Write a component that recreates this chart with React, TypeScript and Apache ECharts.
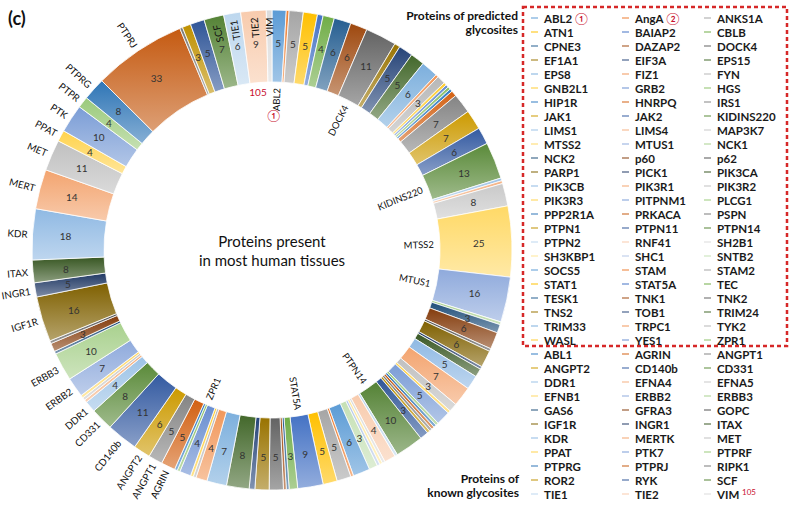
import React, { useEffect, useRef } from 'react';
import * as echarts from 'echarts';

// ---------- data ----------
const predictedNames = ['ABL2','AngA','ANKS1A','ATN1','BAIAP2','CBLB','CPNE3','DAZAP2','DOCK4','EF1A1','EIF3A','EPS15','EPS8','FIZ1','FYN','GNB2L1','GRB2','HGS','HIP1R','HNRPQ','IRS1','JAK1','JAK2','KIDINS220','LIMS1','LIMS4','MAP3K7','MTSS2','MTUS1','NCK1','NCK2','p60','p62','PARP1','PICK1','PIK3CA','PIK3CB','PIK3R1','PIK3R2','PIK3R3','PITPNM1','PLCG1','PPP2R1A','PRKACA','PSPN','PTPN1','PTPN11','PTPN14','PTPN2','RNF41','SH2B1','SH3KBP1','SHC1','SNTB2','SOCS5','STAM','STAM2','STAT1','STAT5A','TEC','TESK1','TNK1','TNK2','TNS2','TOB1','TRIM24','TRIM33','TRPC1','TYK2','WASL','YES1','ZPR1'];
const predictedCounts = [5,1,5,5,2,4,6,6,11,2, 5,5,6,1,3,1,1,1,1,2, 7,7,6,13,1,1,8,25,16,1, 3,6,1,6,1,3,5,7,3,1, 5,1,1,1,1,1,3,10,1,4, 1,1,1,3,6,1,5,5,9,3, 1,1,5,5,2,8,7,4,1,1, 4,1];

const knownNames = ['ABL1','AGRIN','ANGPT1','ANGPT2','CD140b','CD331','DDR1','EFNA4','EFNA5','EFNB1','ERBB2','ERBB3','GAS6','GFRA3','GOPC','IGF1R','INGR1','ITAX','KDR','MERTK','MET','PPAT','PTK7','PTPRF','PTPRG','PTPRJ','RIPK1','ROR2','RYK','SCF','TIE1','TIE2','VIM'];
const knownCounts = [1,5,5,6,11,8,4,1,1,1, 7,10,1,3,1,16,5,8,18,14, 11,4,10,4,8,33,1,3,5,7, 6,9,2];

// names written inside the hole of the ring
const innerLabels = ['ABL2','DOCK4','KIDINS220','MTSS2','MTUS1','PTPN14','STAT5A','ZPR1'];
// names written outside the ring (name -> shown text)
const outerLabels: Record<string, string> = {
  AGRIN: 'AGRIN', ANGPT1: 'ANGPT1', ANGPT2: 'ANGPT2', CD140b: 'CD140b', CD331: 'CD331', DDR1: 'DDR1',
  ERBB2: 'ERBB2', ERBB3: 'ERBB3', IGF1R: 'IGF1R', INGR1: 'INGR1', ITAX: 'ITAX', KDR: 'KDR',
  MERTK: 'MERT', MET: 'MET', PPAT: 'PPAT', PTK7: 'PTK', PTPRF: 'PTPR', PTPRG: 'PTPRG', PTPRJ: 'PTPRJ',
};
// names written inside their own slice, near the outer edge
const sliceLabels = ['SCF','TIE1','TIE2','VIM'];

const centerTitle = 'Proteins present\nin most human tissues';

// ---------- colours ----------
const paletteGroups = [
  ['#5B9BD5','#ED7D31','#A5A5A5','#FFC000','#4472C4','#70AD47'],
  ['#255E91','#9E480E','#636363','#997300','#264478','#43682B'],
  ['#7CAFDD','#F1975A','#B7B7B7','#FFCD33','#698ED0','#8CC168'],
  ['#327DC2','#D26012','#848484','#CC9A00','#335AA1','#5A8A39'],
  ['#9DC3E6','#F4B183','#C9C9C9','#FFD966','#8FAADC','#A9D18E'],
  ['#1F4E79','#843C0C','#525252','#7F6000','#203864','#385723'],
  ['#8FB9E3','#F3A46F','#C0C0C0','#FFD34D','#7B9DD6','#9BCA7B'],
  ['#2E75B6','#C55A11','#7B7B7B','#BF9000','#2F5597','#548235'],
  ['#BDD7EE','#F8CBAD','#DBDBDB','#FFE699','#B4C7E7','#C5E0B4'],
];
const colorOf = (i: number) => paletteGroups[Math.floor(i / 6) % 9][i % 6];
const mix = (hex: string, t: number) => {
  const n = parseInt(hex.slice(1), 16);
  const f = (c: number) => Math.round(c + (255 - c) * t);
  return `rgb(${f((n >> 16) & 255)},${f((n >> 8) & 255)},${f(n & 255)})`;
};

const FONT = 'Lato, "Open Sans", sans-serif';
const NAME_SIZE = 9.5;
const INNER_BOX = 70;

function measure(text: string, font: string) {
  const ctx = document.createElement('canvas').getContext('2d');
  if (!ctx) return text.length * 6;
  ctx.font = font;
  return ctx.measureText(text).width;
}

function buildOption() {
  const names = [...predictedNames, ...knownNames];
  const counts = [...predictedCounts, ...knownCounts];
  const total = counts.reduce((a, b) => a + b, 0);
  let acc = 0;
  const midDeg = counts.map((v) => {
    const m = ((acc + v / 2) / total) * 360;
    acc += v;
    return m;
  });

  const mainData = names.map((n, i) => ({
    name: n,
    value: counts[i],
    itemStyle: {
      color: new echarts.graphic.LinearGradient(0, 0, 0, 1, [
        { offset: 0, color: colorOf(i) },
        { offset: 1, color: mix(colorOf(i), 0.42) },
      ]),
    },
  }));

  const innerData = names.map((n, i) => {
    const d: any = { name: n, value: counts[i] };
    if (innerLabels.includes(n)) {
      const w = measure(n, `${NAME_SIZE}px Lato`);
      const pad = Math.max(0, INNER_BOX - w);
      d.label = {
        show: true,
        formatter: n,
        padding: midDeg[i] < 180 ? [0, 0, 0, pad] : [0, pad, 0, 0],
      };
    }
    return d;
  });

  const nameData = names.map((n, i) => {
    const d: any = { name: n, value: counts[i] };
    if (outerLabels[n]) {
      d.label = { show: true, position: 'outside', rotate: 'radial', formatter: outerLabels[n] };
    } else if (sliceLabels.includes(n)) {
      d.label = { show: true, position: 'inside', rotate: 90 - midDeg[i], formatter: n, fontSize: 10 };
    }
    return d;
  });

  const legendLeft = [529, 620, 702];
  const legends = [0, 1, 2].map((c) => ({
    orient: 'vertical',
    left: legendLeft[c],
    top: 11,
    padding: 0,
    itemGap: 0,
    itemWidth: 9,
    itemHeight: 3,
    icon: 'rect',
    selectedMode: false,
    data: names
      .map((n, i) => ({ n, i }))
      .filter((o) => o.i % 3 === c)
      .map((o) => ({ name: o.n, itemStyle: { color: colorOf(o.i) } })),
    formatter: (n: string) => {
      if (n === 'ABL2') return 'ABL2 {r|①}';
      if (n === 'AngA') return 'AngA {r|②}';
      if (n === 'VIM') return 'VIM {s|105}';
      return n;
    },
    textStyle: {
      fontFamily: FONT,
      fontSize: 11.5,
      fontWeight: 'bold',
      color: '#1a1a1a',
      lineHeight: 14,
      rich: {
        r: { color: '#C8102E', fontSize: 12, fontWeight: 'normal', lineHeight: 14 },
        s: { color: '#C8102E', fontSize: 8, fontWeight: 'normal', lineHeight: 14, padding: [0, 0, 5, 0] },
      },
    },
  }));

  const cx = 272;
  const cy = 250;

  return {
    animation: false,
    backgroundColor: '#ffffff',
    legend: legends,
    graphic: [
      {
        type: 'rect',
        shape: { x: 523, y: 7, width: 264, height: 339 },
        style: { fill: 'none', stroke: '#D62828', lineWidth: 2.5, lineDash: [4, 3] },
        silent: true,
      },
      {
        type: 'text', x: 8, y: 9,
        style: { text: '(c)', font: `bold 18px ${FONT}`, fill: '#111' },
      },
      {
        type: 'text', x: 518, y: 8,
        style: { text: 'Proteins of predicted\nglycosites', font: `bold 12px ${FONT}`, fill: '#111', align: 'right', textAlign: 'right', lineHeight: 14 },
      },
      {
        type: 'text', x: 519, y: 471,
        style: { text: 'Proteins of\nknown glycosites', font: `bold 12px ${FONT}`, fill: '#111', align: 'right', textAlign: 'right', lineHeight: 14 },
      },
      {
        type: 'text', x: cx, y: cy,
        style: { text: centerTitle, font: `15px ${FONT}`, fill: '#111', align: 'center', textAlign: 'center', verticalAlign: 'middle', textVerticalAlign: 'middle', lineHeight: 19 },
      },
      {
        type: 'text', x: 258, y: 92,
        style: { text: '105', font: `10px ${FONT}`, fill: '#C8102E', align: 'center', textAlign: 'center', verticalAlign: 'middle', textVerticalAlign: 'middle' },
      },
      {
        type: 'text', x: 274, y: 115,
        style: { text: '①', font: `12px ${FONT}`, fill: '#C8102E', align: 'center', textAlign: 'center', verticalAlign: 'middle', textVerticalAlign: 'middle' },
      },
    ],
    series: [
      {
        type: 'pie',
        center: [cx, cy],
        radius: [168, 240],
        startAngle: 90,
        clockwise: true,
        avoidLabelOverlap: false,
        emphasis: { disabled: true },
        itemStyle: { borderColor: '#ffffff', borderWidth: 0.8 },
        label: {
          show: true,
          position: 'inside',
          fontFamily: FONT,
          fontSize: 10,
          color: '#333333',
          formatter: (p: any) => (p.value >= 3 ? String(p.value) : ''),
        },
        labelLine: { show: false },
        data: mainData,
      },
      {
        type: 'pie',
        center: [cx, cy],
        radius: [114, 134],
        startAngle: 90,
        silent: true,
        avoidLabelOverlap: false,
        emphasis: { disabled: true },
        itemStyle: { color: 'rgba(0,0,0,0)', borderWidth: 0 },
        label: {
          show: false,
          position: 'inside',
          rotate: 'radial',
          fontFamily: FONT,
          fontSize: NAME_SIZE,
          color: '#111',
        },
        labelLine: { show: false },
        data: innerData,
      },
      {
        type: 'pie',
        center: [cx, cy],
        radius: [200, 240],
        startAngle: 90,
        silent: true,
        avoidLabelOverlap: false,
        emphasis: { disabled: true },
        itemStyle: { color: 'rgba(0,0,0,0)', borderWidth: 0 },
        label: {
          show: false,
          fontFamily: FONT,
          fontSize: 9.8,
          color: '#111',
          distanceToLabelLine: 0,
        },
        labelLine: { show: false, length: 5, length2: 0 },
        data: nameData,
      },
    ],
  };
}

export default function App() {
  const ref = useRef<HTMLDivElement>(null);
  useEffect(() => {
    const chart = echarts.init(ref.current as HTMLDivElement, null, { renderer: 'svg' });
    chart.setOption(buildOption() as any);
    return () => chart.dispose();
  }, []);
  return (
    <div
      ref={ref}
      style={{ position: 'fixed', left: 0, top: 0, width: 797, height: 507, background: '#fff' }}
    />
  );
}
